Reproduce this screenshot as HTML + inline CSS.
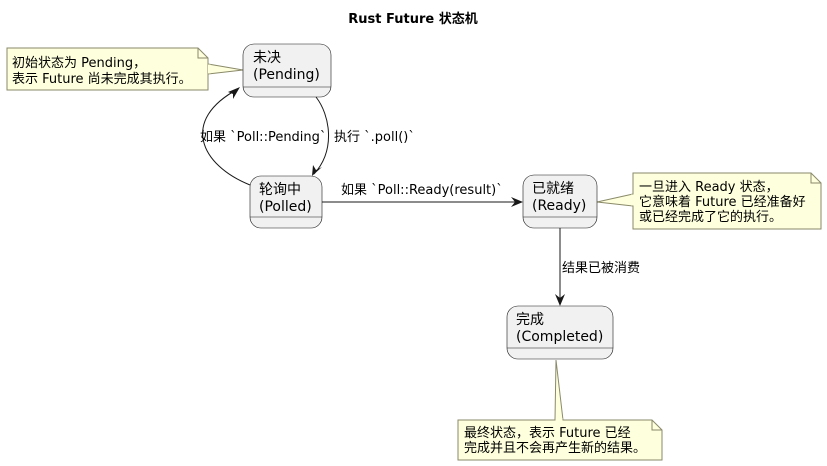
<!DOCTYPE html>
<html><head><meta charset="utf-8"><style>
html,body{margin:0;padding:0;background:#fff;}
svg{display:block;font-family:"DejaVu Sans","Noto Sans CJK SC",sans-serif;}
</style></head><body>
<svg width="827" height="466" viewBox="0 0 827 466" xmlns="http://www.w3.org/2000/svg">
<text x="413" y="23" text-anchor="middle" font-size="13" font-weight="bold">Rust Future 状态机</text>

<g fill="#FEFFDD" stroke="#8A8A6A" stroke-width="1">
<path d="M7,48 H198 L208,58 V90 H7 Z"/>
<path d="M208,64 L243,70 L208,74"/>
<path d="M633,173 H811 L821,183 V229 H633 Z"/>
<path d="M633,194 L597,202 L633,206"/>
<path d="M458,420 H652 L662,430 V460 H458 Z"/>
<path d="M555,420 L556,360 L563,420"/>
</g>
<g stroke="#8A8A6A" fill="none"><path d="M198,48 V58 H208"/><path d="M811,173 V183 H821"/><path d="M652,420 V430 H662"/></g>
<g fill="#FEFFDD"><rect x="208.5" y="64.5" width="2" height="9"/><rect x="631" y="194.5" width="2.5" height="11"/><rect x="555.5" y="418" width="7" height="2.6"/></g>
<g font-size="13" fill="#000">
<text x="12" y="67">初始状态为 Pending，</text>
<text x="12" y="83">表示 Future 尚未完成其执行。</text>
<text x="639" y="191">一旦进入 Ready 状态，</text>
<text x="639" y="206">它意味着 Future 已经准备好</text>
<text x="639" y="221">或已经完成了它的执行。</text>
<text x="464" y="437">最终状态，表示 Future 已经</text>
<text x="464" y="452">完成并且不会再产生新的结果。</text>
</g>

<g fill="#F1F1F1" stroke="#181818" stroke-width="0.6">
<rect x="243" y="44" width="88" height="53" rx="11"/>
<rect x="250" y="176" width="72" height="52" rx="11"/>
<rect x="523" y="175" width="74" height="53" rx="11"/>
<rect x="507" y="306" width="106" height="53" rx="11"/>
</g>
<g stroke="#181818" stroke-width="0.6">
<line x1="243" y1="87" x2="331" y2="87"/>
<line x1="250" y1="217" x2="322" y2="217"/>
<line x1="523" y1="217" x2="597" y2="217"/>
<line x1="507" y1="348" x2="613" y2="348"/>
</g>
<g font-size="14" fill="#000">
<text x="253" y="62">未决</text><text x="253" y="79">(Pending)</text>
<text x="259" y="194">轮询中</text><text x="259" y="211">(Polled)</text>
<text x="532" y="193">已就绪</text><text x="532" y="210">(Ready)</text>
<text x="516" y="324">完成</text><text x="516" y="341">(Completed)</text>
</g>

<g stroke="#181818" stroke-width="1" fill="none">
<path d="M316,97 C330,115 336,150 314,174"/>
<path d="M250,185 C200,165 180,120 238,89"/>
<path d="M322,202 H521"/>
<path d="M560,228 V304"/>
</g>
<g fill="#181818">
<path d="M312,176 L313,165 L316,170 L322,167 Z"/>
<path d="M240,87 L228,92 L233,94 L233,99 Z"/>
<path d="M523,202 L511,197 L515,202 L511,207 Z"/>
<path d="M560,306 L555,294 L560,298 L565,294 Z"/>
</g>
<g font-size="13" fill="#000">
<text x="334" y="141">执行 `.poll()`</text>
<text x="200" y="141">如果 `Poll::Pending`</text>
<text x="341" y="194">如果 `Poll::Ready(result)`</text>
<text x="562" y="272">结果已被消费</text>
</g>
</svg>
</body></html>
